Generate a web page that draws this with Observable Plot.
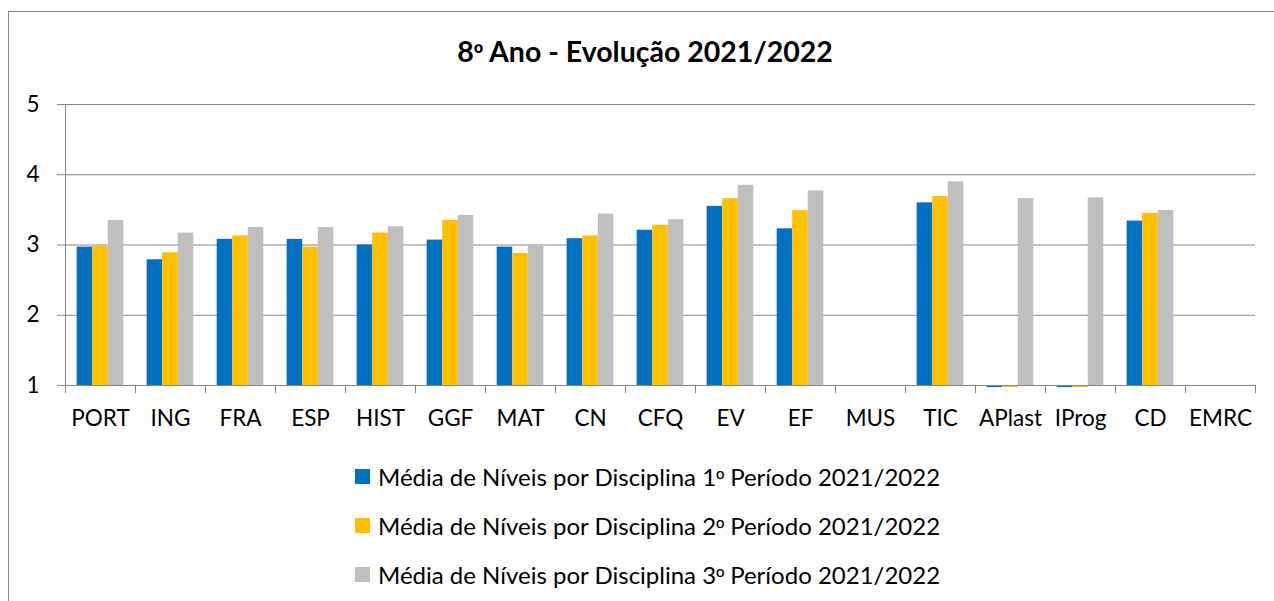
<!DOCTYPE html>
<html>
<head>
<meta charset="utf-8">
<script src="https://cdn.jsdelivr.net/npm/d3@7"></script>
<script src="https://cdn.jsdelivr.net/npm/@observablehq/plot@0.6"></script>
<style>
  body { margin: 0; background: #fff; font-family: Lato, sans-serif; color: #000; }
  #wrap { position: relative; width: 1274px; height: 601px; overflow: hidden; }
  #frame { position: absolute; left: 8px; top: 11px; width: 1400px; height: 700px;
           border-left: 1px solid #898989; border-top: 1px solid #898989; }
  #title { position: absolute; left: 0; width: 1290px; top: 34px; text-align: center;
           font-weight: 700; font-size: 28.5px; line-height: 1.2; white-space: nowrap; }
  #chart { position: absolute; left: 0; top: 0; }
  #legend { position: absolute; left: 355px; top: 452px; }
  .row { display: flex; align-items: center; height: 49px; font-size: 24px; white-space: nowrap; }
  .sw { width: 15px; height: 15px; margin-right: 8px; flex: none; }
  .ord { font-family: "Liberation Sans", sans-serif; font-size: 0.9em; }
</style>
</head>
<body>
<div id="wrap">
  <div id="frame"></div>
  <div id="chart"></div>
  <div id="title"></div>
  <div id="legend"></div>
</div>
<script>
const titleText = "8º Ano - Evolução 2021/2022";
const categories = ["PORT","ING","FRA","ESP","HIST","GGF","MAT","CN","CFQ","EV","EF","MUS","TIC","APlast","IProg","CD","EMRC"];
const seriesNames = [
  "Média de Níveis por Disciplina 1º Período 2021/2022",
  "Média de Níveis por Disciplina 2º Período 2021/2022",
  "Média de Níveis por Disciplina 3º Período 2021/2022"
];
const seriesColors = ["#0070C0", "#FFC000", "#BFBFBF"];
const period1 = [2.97, 2.79, 3.08, 3.08, 3.00, 3.07, 2.97, 3.09, 3.21, 3.55, 3.23, null, 3.60, 0.97, 0.97, 3.34, null];
const period2 = [2.98, 2.89, 3.13, 2.97, 3.17, 3.35, 2.88, 3.13, 3.28, 3.66, 3.49, null, 3.69, 0.97, 0.97, 3.45, null];
const period3 = [3.35, 3.17, 3.25, 3.25, 3.26, 3.42, 3.00, 3.44, 3.36, 3.85, 3.77, null, 3.90, 3.66, 3.67, 3.49, null];
const yTicks = [1, 2, 3, 4, 5];

const seriesValues = [period1, period2, period3];
const table = [];
seriesValues.forEach((vals, s) => vals.forEach((v, i) => table.push({cat: categories[i], s, value: v})));

const W = 1274, H = 440, ML = 65, MR = 19, MT = 104, MB = 55;
const bw = (W - ML - MR) / categories.length;
const group = bw * 2 / 3, off = (bw - group) / 2, each = group / 3;
const gridColor = "#868686";
const axisFont = 22.5;

const barMarks = seriesValues.map((_, s) =>
  Plot.barY(table.filter(d => d.s === s), {
    x: "cat", y1: () => 1, y2: "value", fill: seriesColors[s],
    insetLeft: off + s * each, insetRight: bw - off - (s + 1) * each
  })
);

const chart = Plot.plot({
  width: W, height: H,
  marginLeft: ML, marginRight: MR, marginTop: MT, marginBottom: MB,
  style: {fontFamily: "Lato, sans-serif", background: "transparent", color: "#000", overflow: "visible"},
  x: {domain: categories, padding: 0},
  y: {domain: [1, 5]},
  clip: false,
  marks: [
    Plot.ruleY(yTicks.slice(1), {stroke: gridColor}),
    Plot.axisY({ticks: yTicks, tickSize: 8, tickPadding: 18, fontSize: axisFont, stroke: gridColor, fill: "#000", label: null, tickFormat: d => String(d)}),
    ...barMarks,
    Plot.ruleY([yTicks[0]], {stroke: gridColor}),
    Plot.axisX({tickSize: 0, tickPadding: 25, fontSize: axisFont, fill: "#000", label: null})
  ]
});

// category boundary ticks and vertical axis line, via the chart's scales
const xs = chart.scale("x"), ys = chart.scale("y");
const edges = categories.map(c => xs.apply(c));
edges.push(xs.apply(categories[categories.length - 1]) + xs.bandwidth);
const g = d3.select(chart).append("g").attr("stroke", gridColor).attr("stroke-width", 1);
g.selectAll("line.t").data(edges).join("line").attr("class", "t")
  .attr("x1", d => Math.round(d) + 0.5).attr("x2", d => Math.round(d) + 0.5)
  .attr("y1", ys.apply(yTicks[0])).attr("y2", ys.apply(yTicks[0]) + 8);
g.append("line")
  .attr("x1", Math.round(edges[0]) + 0.5).attr("x2", Math.round(edges[0]) + 0.5)
  .attr("y1", ys.apply(yTicks[yTicks.length - 1])).attr("y2", ys.apply(yTicks[0]));

document.getElementById("chart").append(chart);

// text with the ordinal indicator drawn in a font whose º is underlined
function setText(sel, text) {
  text.split("º").forEach((part, i) => {
    if (i > 0) sel.append("span").attr("class", "ord").text("º");
    sel.append("span").text(part);
  });
}
setText(d3.select("#title"), titleText);

const legend = d3.select("#legend");
seriesNames.forEach((name, i) => {
  const row = legend.append("div").attr("class", "row");
  row.append("div").attr("class", "sw").style("background", seriesColors[i]);
  setText(row.append("span"), name);
});
</script>
</body>
</html>
